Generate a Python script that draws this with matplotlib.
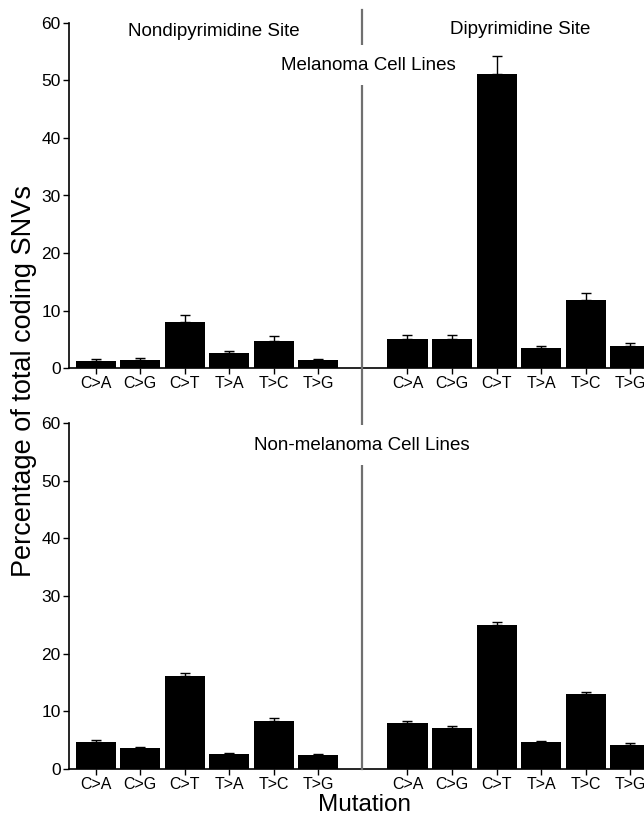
"""
Mutation spectrum bar chart (melanoma vs non-melanoma cell lines)
"""
import matplotlib
matplotlib.use('Agg')

import matplotlib.pyplot as plt
from matplotlib.lines import Line2D
import numpy as np

plt.rcParams['font.family'] = ['Liberation Sans', 'DejaVu Sans']

# data
mutations = ["C>A", "C>G", "C>T", "T>A", "T>C", "T>G"]
site_titles = ["Nondipyrimidine Site", "Dipyrimidine Site"]
panel_titles = ["Melanoma Cell Lines", "Non-melanoma Cell Lines"]

mel_nondipy = [1.27, 1.39, 7.93, 2.6, 4.63, 1.39]
mel_nondipy_err = [0.35, 0.4, 1.27, 0.35, 0.98, 0.23]
mel_dipy = [5.03, 4.98, 51.2, 3.41, 11.8, 3.76]
mel_dipy_err = [0.7, 0.69, 3.1, 0.47, 1.16, 0.58]

non_nondipy = [4.63, 3.59, 16.2, 2.55, 8.39, 2.37]
non_nondipy_err = [0.35, 0.29, 0.52, 0.29, 0.41, 0.29]
non_dipy = [7.93, 7.06, 24.9, 4.63, 12.96, 4.17]
non_dipy_err = [0.35, 0.35, 0.6, 0.29, 0.41, 0.34]

panels = [
    (mel_nondipy, mel_nondipy_err, mel_dipy, mel_dipy_err),
    (non_nondipy, non_nondipy_err, non_dipy, non_dipy_err),
]

fig = plt.figure(figsize=(6.44, 8.21), dpi=100)
ax_rects = [
    [69 / 644, 1 - 368 / 821, 575 / 644, 345 / 821],
    [69 / 644, 1 - 769 / 821, 575 / 644, 346 / 821],
]

x_left = np.arange(6)
x_right = np.arange(6) + 7

for rect, (v1, e1, v2, e2) in zip(ax_rects, panels):
    ax = fig.add_axes(rect)
    for xs, vals, errs in [(x_left, v1, e1), (x_right, v2, e2)]:
        ax.bar(xs, vals, width=0.9, color='black', edgecolor='none', zorder=2)
        ax.errorbar(xs, vals, yerr=[np.zeros(6), errs], fmt='none',
                    ecolor='black', elinewidth=1.0, capsize=3.5, capthick=1.0, zorder=3)
    ax.set_xlim(-0.6, 12.31)
    ax.set_ylim(0, 60)
    ax.set_yticks(range(0, 61, 10))
    ax.set_xticks(list(x_left) + list(x_right))
    ax.set_xticklabels(mutations + mutations, fontsize=11.5)
    ax.tick_params(axis='y', labelsize=12.5, length=4, width=1.0, pad=2)
    ax.tick_params(axis='x', length=4, width=1.0, pad=2)
    ax.spines['top'].set_visible(False)
    ax.spines['right'].set_visible(False)
    ax.spines['left'].set_linewidth(1.2)
    ax.spines['bottom'].set_linewidth(1.2)

# separator line between site groups
fig.add_artist(Line2D([362 / 644, 362 / 644], [1 - 10 / 821, 1 - 769 / 821],
                      color='#707070', linewidth=1.6, zorder=1))

text_box = dict(facecolor='white', edgecolor='none', pad=8)
fig.text(214 / 644, 1 - 32 / 821, site_titles[0], ha='center', va='center', fontsize=13.5)
fig.text(520 / 644, 1 - 30 / 821, site_titles[1], ha='center', va='center', fontsize=13.5)
fig.text(368 / 644, 1 - 65 / 821, panel_titles[0], ha='center', va='center',
         fontsize=13.5, bbox=text_box, zorder=5)
fig.text(362 / 644, 1 - 445 / 821, panel_titles[1], ha='center', va='center',
         fontsize=13.5, bbox=text_box, zorder=5)

fig.text(24 / 644, 1 - 381 / 821, "Percentage of total coding SNVs", rotation=90,
         ha='center', va='center', fontsize=19.5)
fig.text(364 / 644, 1 - 805 / 821, "Mutation", ha='center', va='center', fontsize=17.5)

plt.savefig('out.png', dpi=100, facecolor='white')
plt.close(fig)
